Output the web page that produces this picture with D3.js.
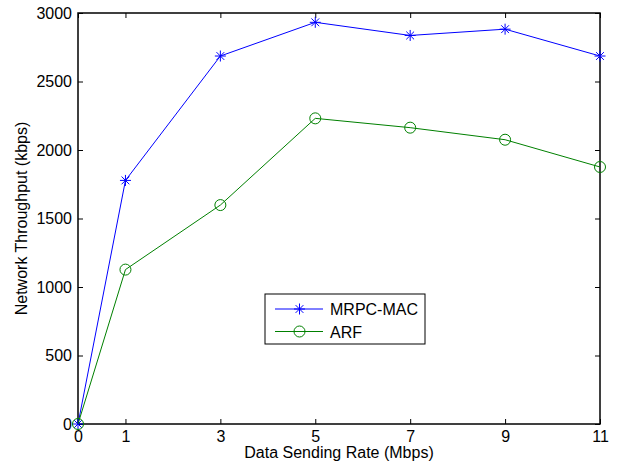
<!DOCTYPE html>
<html>
<head>
<meta charset="utf-8">
<script src="https://cdn.jsdelivr.net/npm/d3@7"></script>
<style>
body{margin:0;background:#fff;}
text{font-family:"Liberation Sans",Arial,Helvetica,sans-serif;}
</style>
</head>
<body>
<div id="chart"></div>
<script>
var rates = [0, 1, 3, 5, 7, 9, 11];
var mrpcMac = [0, 1778, 2686, 2932, 2836, 2882, 2686];
var arf = [0, 1127, 1598, 2231, 2163, 2075, 1876];
var xTicks = [0, 1, 3, 5, 7, 9, 11];
var yTicks = [0, 500, 1000, 1500, 2000, 2500, 3000];

var W = 620, H = 467;
var margin = {left: 78, top: 13, right: 20, bottom: 43};
var w = W - margin.left - margin.right;
var h = H - margin.top - margin.bottom;

var svg = d3.select("#chart").append("svg").attr("width", W).attr("height", H);
var g = svg.append("g").attr("transform", "translate(" + margin.left + "," + margin.top + ")");

var xScale = d3.scaleLinear().domain([0, 11]).range([0, w]);
var yScale = d3.scaleLinear().domain([0, 3000]).range([h, 0]);

var fontSize = 16;

// axes, MATLAB style: ticks point inward, box all round
var xAxis = d3.axisBottom(xScale).tickValues(xTicks).tickSizeInner(-5).tickSizeOuter(0).tickPadding(7).tickFormat(d3.format("d"));
var yAxis = d3.axisLeft(yScale).tickValues(yTicks).tickSizeInner(-5).tickSizeOuter(0).tickPadding(6).tickFormat(d3.format("d"));
var xTop = d3.axisTop(xScale).tickValues(xTicks).tickSizeInner(-5).tickSizeOuter(0).tickFormat("");
var yRight = d3.axisRight(yScale).tickValues(yTicks).tickSizeInner(-5).tickSizeOuter(0).tickFormat("");

var gx = g.append("g").attr("transform", "translate(0," + h + ")").call(xAxis);
var gy = g.append("g").call(yAxis);
g.append("g").call(xTop);
g.append("g").attr("transform", "translate(" + w + ",0)").call(yRight);

g.selectAll(".domain").remove();
g.selectAll(".tick line").attr("stroke", "#000").attr("stroke-width", 1);
g.selectAll(".tick text").attr("fill", "#000").style("font-size", fontSize + "px");

g.append("rect").attr("x", 0).attr("y", 0).attr("width", w).attr("height", h)
    .attr("fill", "none").attr("stroke", "#000").attr("stroke-width", 1.5);

// axis labels
svg.append("text").text("Data Sending Rate (Mbps)")
    .attr("x", margin.left + w / 2).attr("y", 458)
    .attr("text-anchor", "middle").style("font-size", "16px").attr("fill", "#000");
svg.append("text").text("Network Throughput (kbps)")
    .attr("transform", "translate(27," + (margin.top + h / 2) + ") rotate(-90)")
    .attr("text-anchor", "middle").style("font-size", "16px").attr("fill", "#000");

var line = d3.line().x(function(d){ return xScale(d.x); }).y(function(d){ return yScale(d.y); });

var series = [
    {name: "MRPC-MAC", color: "#0000ff", marker: "star", values: mrpcMac},
    {name: "ARF", color: "#008000", marker: "circle", values: arf}
];

function drawMarker(sel, type, color){
    if(type == "circle"){
        sel.append("circle").attr("r", 5.5).attr("fill", "none").attr("stroke", color).attr("stroke-width", 1);
    }
    else{
        var r = 5.5;
        var p = "";
        [0, 45, 90, 135].forEach(function(a){
            var rad = a * Math.PI / 180;
            var dx = r * Math.cos(rad), dy = r * Math.sin(rad);
            p += "M" + (-dx) + "," + (-dy) + "L" + dx + "," + dy;
        });
        sel.append("path").attr("d", p).attr("stroke", color).attr("stroke-width", 1).attr("fill", "none");
    }
}

series.forEach(function(s){
    var pts = rates.map(function(r, i){ return {x: r, y: s.values[i]}; });
    g.append("path").datum(pts).attr("d", line)
        .attr("fill", "none").attr("stroke", s.color).attr("stroke-width", 1);
    g.selectAll(".m-" + s.marker).data(pts).enter().append("g")
        .attr("class", "m-" + s.marker)
        .attr("transform", function(d){ return "translate(" + xScale(d.x) + "," + yScale(d.y) + ")"; })
        .each(function(){ drawMarker(d3.select(this), s.marker, s.color); });
});

// legend
var lg = svg.append("g").attr("transform", "translate(265,294)");
lg.append("rect").attr("width", 160).attr("height", 50).attr("fill", "#fff").attr("stroke", "#000").attr("stroke-width", 1);
series.forEach(function(s, i){
    var yy = 15 + i * 22.5;
    lg.append("line").attr("x1", 10).attr("x2", 58).attr("y1", yy).attr("y2", yy)
        .attr("stroke", s.color).attr("stroke-width", 1);
    var m = lg.append("g").attr("transform", "translate(34.5," + yy + ")");
    drawMarker(m, s.marker, s.color);
    lg.append("text").text(s.name).attr("x", 65).attr("y", yy + 6)
        .style("font-size", "16px").attr("fill", "#000");
});
</script>
</body>
</html>
